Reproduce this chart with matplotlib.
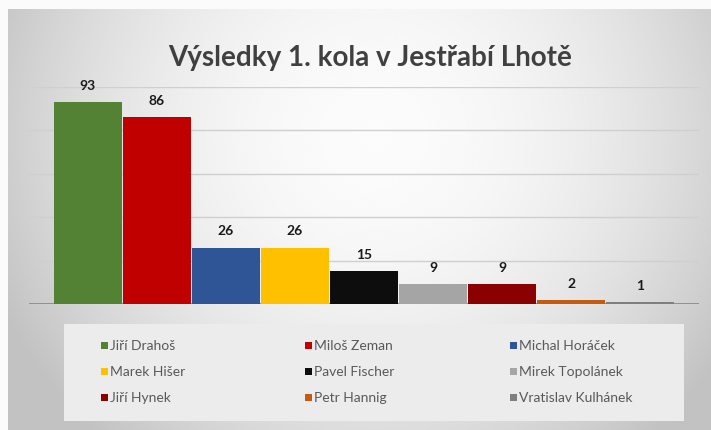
import numpy as np
import matplotlib
matplotlib.use("Agg")
import matplotlib.pyplot as plt
from matplotlib.patches import Rectangle

candidates = ["Jiří Drahoš", "Miloš Zeman", "Michal Horáček", "Marek Hišer", "Pavel Fischer",
              "Mirek Topolánek", "Jiří Hynek", "Petr Hannig", "Vratislav Kulhánek"]
votes = [93, 86, 26, 26, 15, 9, 9, 2, 1]
colors = ["#548235", "#c00000", "#2f5597", "#ffc000", "#0d0d0d",
          "#a5a5a5", "#8b0000", "#c55a11", "#7f7f7f"]
title = "Výsledky 1. kola v Jestřabí Lhotě"

W, H = 711, 431
fig = plt.figure(figsize=(W / 100, H / 100), dpi=100)
fig.patch.set_facecolor("#fbfbfb")

# background panel with radial gradient
bg = fig.add_axes([8 / W, 0, 1 - 8 / W, 1 - 10 / H])
ny, nx = 200, 300
yy, xx = np.mgrid[0:ny, 0:nx]
cx, cy = nx * 0.52, ny * 0.30
r = np.sqrt(((xx - cx) / (nx * 0.58)) ** 2 + ((yy - cy) / (ny * 0.95)) ** 2)
val = np.clip(0.985 - 0.22 * r ** 2, 0.76, 1.0)
bg.imshow(val, cmap="gray", vmin=0, vmax=1, aspect="auto", interpolation="bicubic")
bg.set_axis_off()

# plot area
ax = fig.add_axes([29 / W, 1 - 305 / H, (699 - 29) / W, (305 - 88) / H])
ax.set_facecolor("none")
x = np.arange(len(votes))
bars = ax.bar(x, votes, width=0.99, color=colors, zorder=3)
ax.set_xlim(-0.5 - 0.35, len(votes) - 0.5 + 0.35)
ax.set_ylim(0, 100)
ax.set_yticks(np.arange(0, 101, 20))
ax.grid(axis="y", color="#cfcfcf", linewidth=1, zorder=0)
ax.tick_params(left=False, bottom=False, labelleft=False, labelbottom=False)
for s in ["top", "right", "left", "bottom"]:
    ax.spines[s].set_visible(False)
ax.axhline(0, color="#8c8c8c", linewidth=1.3, zorder=2)

for xi, v in zip(x, votes):
    ax.annotate(str(v), (xi, v), xytext=(0, 8), textcoords="offset points",
                ha="center", va="bottom", fontsize=10, fontweight="bold",
                color="#1a1a1a", family="Lato")

fig.text(370 / W, 1 - 58 / H, title, ha="center", va="center", fontsize=20,
         fontweight="bold", color="#404040", family="Lato")

# legend box
fig.patches.append(Rectangle((64 / W, 1 - 422 / H), (684 - 64) / W, (422 - 325) / H,
                             transform=fig.transFigure, facecolor="#ececec",
                             edgecolor="none", zorder=1))
col_x = [101, 305, 510]
row_y = [346, 372, 398]
for i, (name, c) in enumerate(zip(candidates, colors)):
    cx_ = col_x[i % 3]
    cy_ = row_y[i // 3]
    fig.patches.append(Rectangle((cx_ / W, 1 - (cy_ + 4) / H), 7 / W, 7 / H,
                                 transform=fig.transFigure, facecolor=c,
                                 edgecolor="none", zorder=2))
    fig.text((cx_ + 9) / W, 1 - cy_ / H, name, ha="left", va="center",
             fontsize=10, color="#595959", family="Lato", zorder=3)

fig.savefig("out.png", dpi=100)
